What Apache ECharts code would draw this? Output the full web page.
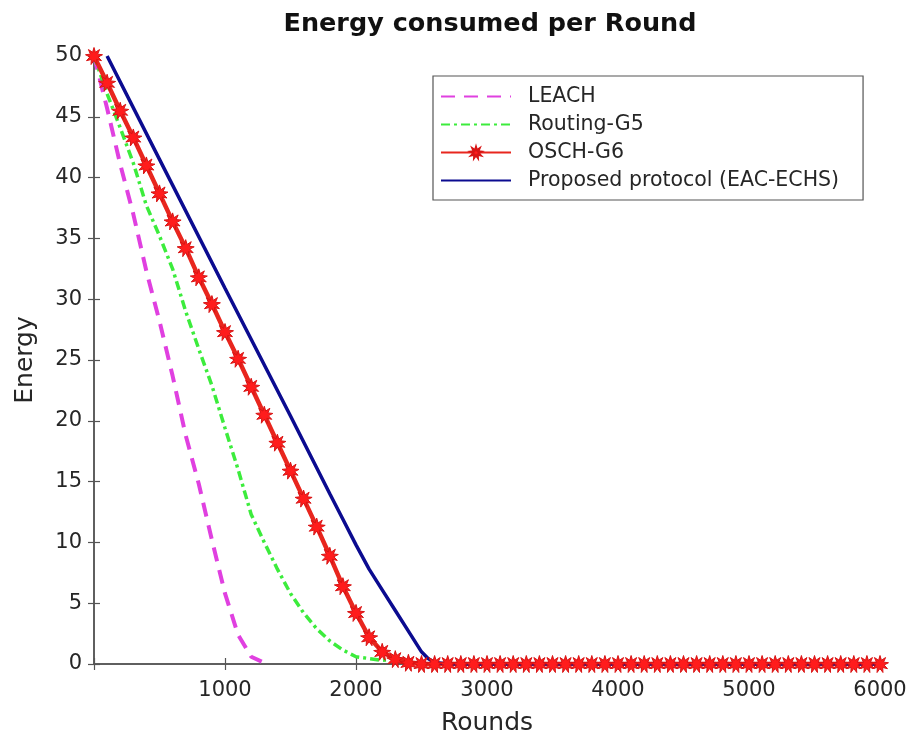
<!DOCTYPE html>
<html>
<head>
<meta charset="utf-8">
<title>Energy consumed per Round</title>
<script src="https://cdn.jsdelivr.net/npm/echarts@6/dist/echarts.min.js"></script>
<style>
  html, body { margin: 0; padding: 0; background: #ffffff; }
  #chart { width: 909px; height: 734px; }
</style>
</head>
<body>
<div id="chart"></div>
<script>
// Axis ticks
var xTicks = [0, 1000, 2000, 3000, 4000, 5000, 6000];
var yTicks = [0, 5, 10, 15, 20, 25, 30, 35, 40, 45, 50];

// LEACH
var leachRounds = [0, 100, 200, 300, 400, 500, 600, 700, 800, 900, 1000, 1100, 1200, 1280];
var leachEnergy = [50, 45.7, 41.1, 37.0, 32.3, 28.2, 23.7, 18.8, 14.8, 10.2, 5.8, 2.4, 0.6, 0.2];

// Routing-G5
var g5Rounds = [0, 100, 200, 300, 400, 500, 600, 700, 800, 900, 1000, 1100, 1200, 1300, 1400, 1500, 1600, 1700, 1800, 1900, 2000, 2100, 2200, 2250];
var g5Energy = [50, 46.9, 44.1, 41.2, 37.7, 35.2, 32.5, 29.0, 25.9, 22.9, 19.4, 16.0, 12.3, 10.0, 7.8, 5.8, 4.2, 2.9, 1.9, 1.15, 0.6, 0.45, 0.3, 0.35];

// OSCH-G6 (one marker per sample)
var g6Rounds = [0, 100, 200, 300, 400, 500, 600, 700, 800, 900,
  1000, 1100, 1200, 1300, 1400, 1500, 1600, 1700, 1800, 1900,
  2000, 2100, 2200, 2300, 2400, 2500, 2600, 2700, 2800, 2900,
  3000, 3100, 3200, 3300, 3400, 3500, 3600, 3700, 3800, 3900,
  4000, 4100, 4200, 4300, 4400, 4500, 4600, 4700, 4800, 4900,
  5000, 5100, 5200, 5300, 5400, 5500, 5600, 5700, 5800, 5900, 6000];
var g6Energy = [50, 47.8, 45.5, 43.3, 41.0, 38.7, 36.4, 34.2, 31.8, 29.6,
  27.3, 25.1, 22.8, 20.5, 18.2, 15.9, 13.6, 11.3, 8.9, 6.4,
  4.2, 2.2, 1.0, 0.4, 0.1, 0, 0, 0, 0, 0,
  0, 0, 0, 0, 0, 0, 0, 0, 0, 0,
  0, 0, 0, 0, 0, 0, 0, 0, 0, 0,
  0, 0, 0, 0, 0, 0, 0, 0, 0, 0, 0];

// Proposed protocol (EAC-ECHS)
var eacRounds = [100, 500, 1000, 1500, 1800, 1900, 2000, 2100, 2200, 2300, 2400, 2500, 2550, 2600, 2700, 6000];
var eacEnergy = [50, 41.5, 30.9, 20.4, 14.0, 11.9, 9.8, 7.8, 6.1, 4.4, 2.7, 1.0, 0.45, 0.13, 0, 0];

var seriesNames = ['LEACH', 'Routing-G5', 'OSCH-G6', 'Proposed protocol (EAC-ECHS)'];

function pairs(xs, ys) {
  return xs.map(function (x, i) { return [x, ys[i]]; });
}

// asterisk-like burst used as the OSCH-G6 marker
function burstPath(points, rOut, rIn) {
  var d = '';
  for (var i = 0; i < points * 2; i++) {
    var r = (i % 2 === 0) ? rOut : rIn;
    var a = Math.PI * i / points - Math.PI / 2;
    var px = (50 + r * Math.cos(a)).toFixed(2);
    var py = (50 + r * Math.sin(a)).toFixed(2);
    d += (i === 0 ? 'M' : 'L') + px + ' ' + py + ' ';
  }
  return 'path://' + d + 'Z';
}

var FONT = 'DejaVu Sans';
var TEXT = '#262626';
var FRAME = '#555555';

var chart = echarts.init(document.getElementById('chart'), null, { renderer: 'canvas' });

// legend entries; plain lines get no marker in their key
var legendData = seriesNames.map(function (n, i) {
  return i === 2 ? { name: n } : { name: n, itemStyle: { opacity: 0 } };
});

var option = {
  backgroundColor: '#ffffff',
  animation: false,
  title: {
    text: 'Energy consumed per Round',
    left: 485,
    textAlign: 'center',
    top: 6,
    textStyle: { fontFamily: FONT, fontWeight: 'bold', fontSize: 25.5, color: '#111111' }
  },
  legend: {
    orient: 'vertical',
    left: 433,
    top: 76,
    padding: [10, 24, 9, 7],
    itemWidth: 70,
    itemHeight: 14,
    itemGap: 7,
    borderColor: '#555555',
    borderWidth: 1.2,
    backgroundColor: '#ffffff',
    data: legendData,
    textStyle: { fontFamily: FONT, fontSize: 20.5, color: TEXT, padding: [0, 0, 0, 12] }
  },
  grid: { left: 94, right: 29, top: 56, bottom: 70, containLabel: false, outerBoundsMode: 'none' },
  xAxis: [{
    type: 'value',
    min: 0, max: 6000, interval: 1000,
    name: 'Rounds',
    nameLocation: 'middle',
    nameGap: 47,
    nameTextStyle: { fontFamily: FONT, fontSize: 25, color: TEXT },
    axisLine: { show: true, onZero: false, lineStyle: { color: FRAME, width: 1.5 } },
    axisTick: { show: true, inside: true, length: 6, lineStyle: { color: FRAME, width: 1.2 } },
    axisLabel: {
      fontFamily: FONT, fontSize: 21, color: TEXT, margin: 16,
      formatter: function (v) { return v === 0 ? '' : String(v); }
    },
    splitLine: { show: false }
  }, {
    type: 'value',
    position: 'top',
    min: 0, max: 6000, interval: 1000,
    axisLine: { show: true, lineStyle: { color: FRAME, width: 1.5 } },
    axisTick: { show: true, inside: true, length: 6, lineStyle: { color: FRAME, width: 1.2 } },
    axisLabel: { show: false },
    splitLine: { show: false }
  }],
  yAxis: [{
    type: 'value',
    min: 0, max: 50, interval: 5,
    name: 'Energy',
    nameLocation: 'middle',
    nameGap: 56,
    nameRotate: 90,
    nameTextStyle: { fontFamily: FONT, fontSize: 25, color: TEXT },
    axisLine: { show: true, onZero: false, lineStyle: { color: FRAME, width: 1.5 } },
    axisTick: { show: true, inside: true, length: 6, lineStyle: { color: FRAME, width: 1.2 } },
    axisLabel: { fontFamily: FONT, fontSize: 21, color: TEXT, margin: 12 },
    splitLine: { show: false }
  }, {
    type: 'value',
    position: 'right',
    min: 0, max: 50, interval: 5,
    axisLine: { show: true, lineStyle: { color: FRAME, width: 1.5 } },
    axisTick: { show: true, inside: true, length: 6, lineStyle: { color: FRAME, width: 1.2 } },
    axisLabel: { show: false },
    splitLine: { show: false }
  }],
  series: [{
    name: seriesNames[0],
    type: 'line',
    data: pairs(leachRounds, leachEnergy),
    showSymbol: false,
    symbol: 'none',
    color: '#e040e0',
    lineStyle: { color: '#e040e0', width: 4, type: [14, 9] }
  }, {
    name: seriesNames[1],
    type: 'line',
    data: pairs(g5Rounds, g5Energy),
    showSymbol: false,
    symbol: 'none',
    color: '#3cec3c',
    lineStyle: { color: '#3cec3c', width: 3.5, type: [9, 4, 3, 4] }
  }, {
    name: seriesNames[2],
    type: 'line',
    data: pairs(g6Rounds, g6Energy),
    symbol: burstPath(9, 50, 24),
    symbolSize: 17,
    showAllSymbol: true,
    color: '#f01e1e',
    itemStyle: { color: '#ff1c1c', borderColor: '#d81414', borderWidth: 1 },
    lineStyle: { color: '#e8261e', width: 4.5 }
  }, {
    name: seriesNames[3],
    type: 'line',
    data: pairs(eacRounds, eacEnergy),
    showSymbol: false,
    symbol: 'none',
    color: '#0b0b90',
    lineStyle: { color: '#0b0b90', width: 3.5 }
  }]
};

chart.setOption(option);
</script>
</body>
</html>
